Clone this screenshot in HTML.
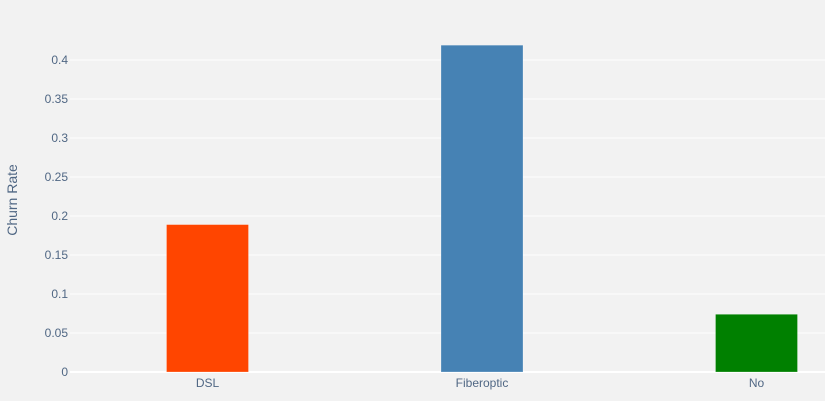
<!DOCTYPE html>
<html><head><meta charset="utf-8"><style>
html,body{margin:0;padding:0;background:#f2f2f2;}
svg{display:block;font-family:"Liberation Sans",sans-serif;}
</style></head><body>
<svg id="chart" width="825" height="401">
<rect width="825" height="401" fill="#f2f2f2"/>
<g id="grid"></g><g id="bars"></g><g id="ylabels"></g><g id="xlabels"></g>
<text x="17" y="200" transform="rotate(-90 17 200)" text-anchor="middle" font-size="14" fill="#506784">Churn Rate</text>
</svg>
<script>
const categories = ["DSL", "Fiberoptic", "No"];
const churnRates = [0.189, 0.419, 0.074];
const barColors = ["#ff4500", "#4682b4", "#008000"];
const yTicks = [0, 0.05, 0.1, 0.15, 0.2, 0.25, 0.3, 0.35, 0.4];
const yTickLabels = ["0", "0.05", "0.1", "0.15", "0.2", "0.25", "0.3", "0.35", "0.4"];

const NS = "http://www.w3.org/2000/svg";
const plotLeft = 70, plotRight = 825, y0 = 372, pxPerUnit = 780;
const band = 274.5, firstCenter = 207.5, barW = 82;
function yScale(v){ return y0 - v * pxPerUnit; }
function xScale(i){ return firstCenter + i * band; }
function mk(tag, attrs, parent){ const e=document.createElementNS(NS,tag); for(const k in attrs) e.setAttribute(k, attrs[k]); parent.appendChild(e); return e; }

const grid=document.getElementById('grid'), ylab=document.getElementById('ylabels');
yTicks.forEach((t,i)=>{
  const y=yScale(t);
  const l=mk('line',{x1:plotLeft,x2:plotRight,y1:y,y2:y,stroke:'#ffffff','stroke-width':i===0?2:1},grid);
  
  
  const tx=mk('text',{x:plotLeft-2,y:y+4,'text-anchor':'end','font-size':12,fill:'#506784'},ylab);
  tx.textContent=yTickLabels[i];
  
  
});
const bars=document.getElementById('bars'), xlab=document.getElementById('xlabels');
categories.forEach((c,i)=>{
  const cx=xScale(i), top=yScale(churnRates[i]);
  const r=mk('rect',{x:cx-barW/2,y:top,width:barW,height:y0-top,fill:barColors[i],stroke:'rgba(255,255,255,0.5)','stroke-width':0.5},bars);
  
  
  const tx=mk('text',{x:cx,y:387,'text-anchor':'middle','font-size':12,fill:'#506784'},xlab);
  tx.textContent=c;
  
  
});
</script>
</body></html>
